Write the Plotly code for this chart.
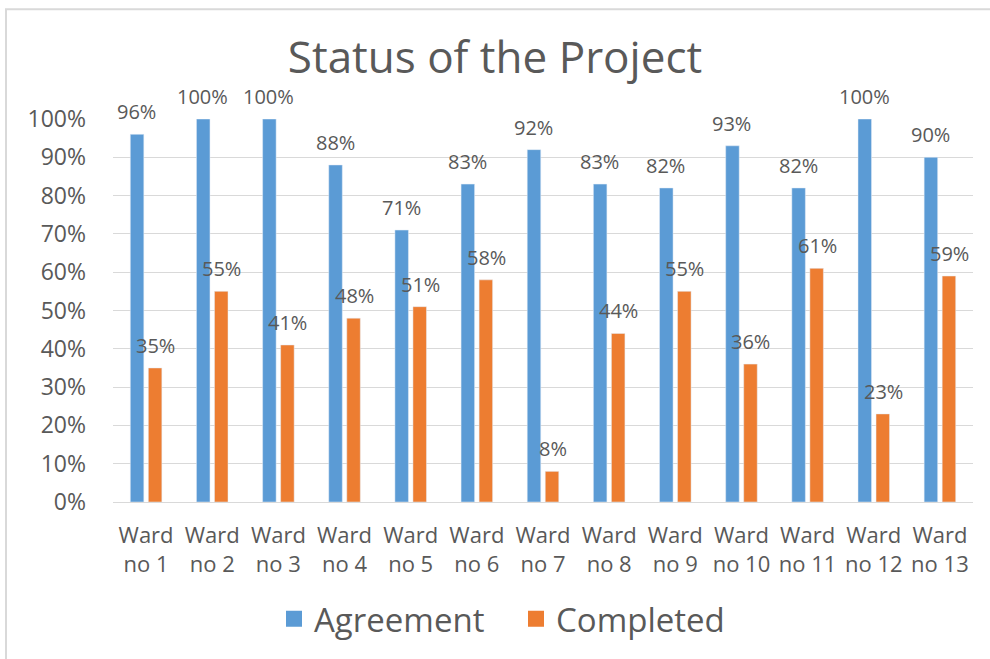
import plotly.graph_objects as go

wards = ["Ward<br>no 1", "Ward<br>no 2", "Ward<br>no 3", "Ward<br>no 4", "Ward<br>no 5",
         "Ward<br>no 6", "Ward<br>no 7", "Ward<br>no 8", "Ward<br>no 9", "Ward<br>no 10",
         "Ward<br>no 11", "Ward<br>no 12", "Ward<br>no 13"]
agreement = [0.96, 1.00, 1.00, 0.88, 0.71, 0.83, 0.92, 0.83, 0.82, 0.93, 0.82, 1.00, 0.90]
completed = [0.35, 0.55, 0.41, 0.48, 0.51, 0.58, 0.08, 0.44, 0.55, 0.36, 0.61, 0.23, 0.59]
y_ticks = [i / 10 for i in range(11)]
y_tick_labels = [f"{i * 10}%" for i in range(11)]

BLUE = "#5B9BD5"
ORANGE = "#ED7D31"
TXT = "#595959"
FONT = "Open Sans"

fig = go.Figure()
fig.add_trace(go.Bar(x=wards, y=agreement, name="Agreement", marker_color=BLUE,
                     showlegend=False, offsetgroup="a"))
fig.add_trace(go.Bar(x=wards, y=completed, name="Completed", marker_color=ORANGE,
                     showlegend=False, offsetgroup="c"))
# legend entries with larger square symbols
fig.add_trace(go.Scatter(x=[None], y=[None], mode="markers", name="Agreement",
                         marker=dict(symbol="square", size=22, color=BLUE)))
fig.add_trace(go.Scatter(x=[None], y=[None], mode="markers", name="Completed",
                         marker=dict(symbol="square", size=22, color=ORANGE)))

annotations = []
for series, off in ((agreement, "a"), (completed, "c")):
    for w, v in zip(wards, series):
        annotations.append(dict(
            x=w, y=v, xref="x", yref="y", text=f"{round(v * 100)}%",
            showarrow=False, yanchor="bottom", yshift=7,
            xshift=-9.5 if off == "a" else 9.5,
            font=dict(family=FONT, size=20, color=TXT)))

L, R, T, B = 113, 17, 119, 153
PW, PH = 990 - L - R, 659 - T - B

fig.update_layout(
    width=990, height=659,
    paper_bgcolor="white", plot_bgcolor="white",
    margin=dict(l=L, r=R, t=T, b=B),
    title=dict(text="Status of the Project", x=0.5, xanchor="center", y=1 - 58 / 659, yanchor="middle",
               font=dict(family=FONT, size=44, color=TXT)),
    barmode="group", bargap=0.455, bargroupgap=0.25,
    font=dict(family=FONT, color=TXT),
    xaxis=dict(showgrid=False, showline=True, linecolor="#D9D9D9", linewidth=1,
               tickfont=dict(family=FONT, size=22, color=TXT), ticks="",
               ticklabelstandoff=14, automargin=False),
    yaxis=dict(range=[0, 1], tickvals=y_ticks, ticktext=y_tick_labels,
               showgrid=True, gridcolor="#D9D9D9", gridwidth=1, zeroline=False,
               showline=False, tickfont=dict(family=FONT, size=23, color=TXT), ticks="",
               ticklabelstandoff=26, automargin=False),
    legend=dict(orientation="h", x=(516 - L) / PW, xanchor="center",
                y=-(624 - (659 - B)) / PH, yanchor="middle",
                font=dict(family=FONT, size=33, color=TXT), itemsizing="trace",
                entrywidth=197),
    annotations=annotations,
    shapes=[dict(type="rect", xref="paper", yref="paper",
                 x0=-(L - 6) / PW, x1=1 + (R + 20) / PW, y0=-(B + 20) / PH, y1=1 + (T - 8) / PH,
                 line=dict(color="#D9D9D9", width=2))],
)

fig.write_html("out.html", config={"displayModeBar": False},
               post_script="document.body.style.margin='0';")
